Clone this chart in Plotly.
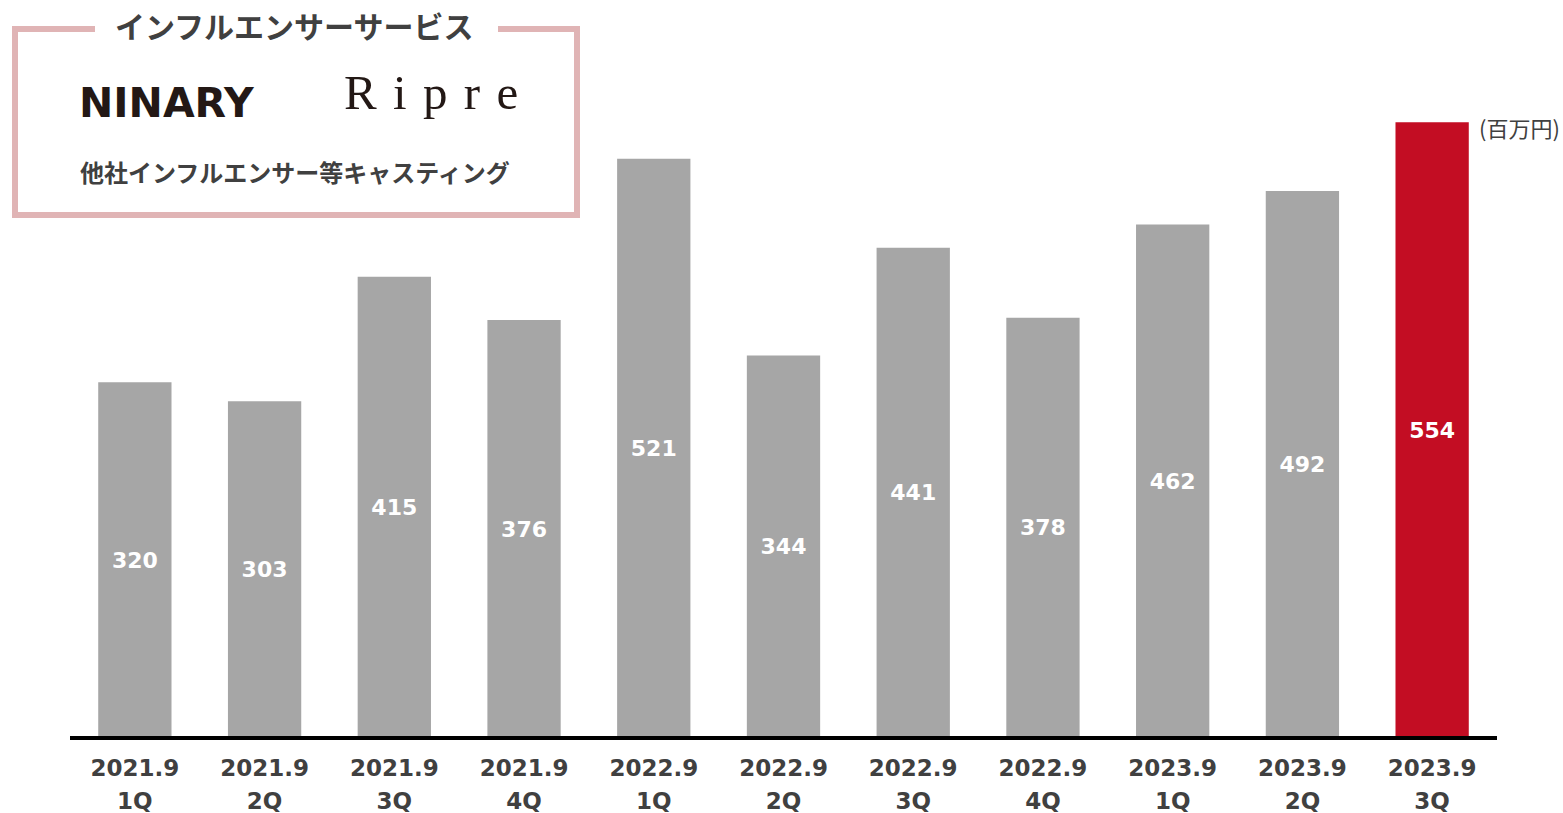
import plotly.graph_objects as go

years = ["2021.9", "2021.9", "2021.9", "2021.9", "2022.9", "2022.9",
         "2022.9", "2022.9", "2023.9", "2023.9", "2023.9"]
quarters = ["1Q", "2Q", "3Q", "4Q", "1Q", "2Q", "3Q", "4Q", "1Q", "2Q", "3Q"]
values = [320, 303, 415, 376, 521, 344, 441, 378, 462, 492, 554]
highlight_index = 10

GRAY = "#a6a6a6"
RED = "#c30d23"
TXT = "#404040"
PINK = "#e0b4b5"

colors = [RED if i == highlight_index else GRAY for i in range(len(values))]

W, H = 1563, 813
L, R, T, B = 70, 66, 71, 75
PW, PH = W - L - R, H - T - B

def px(x):
    return (x - L) / PW

def py(y):
    return (H - B - y) / PH

xs = list(range(len(values)))

fig = go.Figure()
fig.add_trace(go.Bar(
    x=xs, y=values,
    marker=dict(color=colors, line=dict(width=0)),
    width=0.565,
    text=[str(v) for v in values],
    textposition="inside", insidetextanchor="middle",
    textfont=dict(family="DejaVu Sans", size=22, color="white", weight="bold"),
    cliponaxis=False,
    hoverinfo="skip",
))
# invisible helper trace so the second (quarter) category axis is drawn
fig.add_trace(go.Scatter(
    x=xs, y=[0] * len(xs), xaxis="x2", yaxis="y",
    mode="markers", marker=dict(opacity=0, size=1), hoverinfo="skip", showlegend=False,
))

shapes = []
shapes.append(dict(type="line", xref="paper", yref="paper", x0=0, x1=1, y0=0, y1=0,
                   line=dict(color="black", width=4), layer="above"))
lw = 6
for (x0, y0, x1, y1) in [(15, 29, 15, 215), (577, 29, 577, 215), (12, 215, 580, 215),
                         (12, 29, 95, 29), (498, 29, 580, 29)]:
    shapes.append(dict(type="line", xref="paper", yref="paper",
                       x0=px(x0), x1=px(x1), y0=py(y0), y1=py(y1),
                       line=dict(color=PINK, width=lw)))

annotations = [
    dict(text="<b>インフルエンサーサービス</b>", x=px(294), y=py(25), xref="paper", yref="paper",
         showarrow=False, xanchor="center", yanchor="middle",
         font=dict(family="Noto Sans CJK JP", size=30, color=TXT)),
    dict(text="<b>NINARY</b>", x=px(77), y=py(103), xref="paper", yref="paper",
         showarrow=False, xanchor="left", yanchor="middle",
         font=dict(family="DejaVu Sans", size=41, color="#231815")),
    dict(text="R \u200ai \u200ap \u200ar \u200ae", x=px(342), y=py(93), xref="paper", yref="paper",
         showarrow=False, xanchor="left", yanchor="middle",
         font=dict(family="Liberation Serif", size=49, color="#231815")),
    dict(text="<b>他社インフルエンサー等キャスティング</b>", x=px(295), y=py(171), xref="paper", yref="paper",
         showarrow=False, xanchor="center", yanchor="middle",
         font=dict(family="Noto Sans CJK JP", size=24, color=TXT)),
    dict(text="(百万円)", x=px(1477), y=py(127), xref="paper", yref="paper",
         showarrow=False, xanchor="left", yanchor="middle",
         font=dict(family="Noto Sans CJK JP", size=22, color=TXT)),
]

common_axis = dict(range=[-0.5, len(values) - 0.5], tickmode="array", tickvals=xs,
                   showgrid=False, zeroline=False, showline=False, ticks="", fixedrange=True,
                   automargin=False,
                   tickfont=dict(family="DejaVu Sans", size=23, color=TXT, weight="bold"))

fig.update_layout(
    width=W, height=H,
    margin=dict(l=L, r=R, t=T, b=B, pad=0, autoexpand=False),
    paper_bgcolor="white", plot_bgcolor="white",
    showlegend=False,
    shapes=shapes,
    annotations=annotations,
    uniformtext=dict(minsize=10, mode="show"),
    xaxis=dict(**common_axis, ticktext=years, ticklabelstandoff=14),
    xaxis2=dict(**common_axis, ticktext=quarters, overlaying="x", anchor="y", side="bottom",
                ticklabelstandoff=47),
    yaxis=dict(range=[0, 600], visible=False, showgrid=False, zeroline=False, fixedrange=True,
               automargin=False),
)

fig.write_html("out.html", config={"displayModeBar": False},
               post_script="document.body.style.margin='0';")
